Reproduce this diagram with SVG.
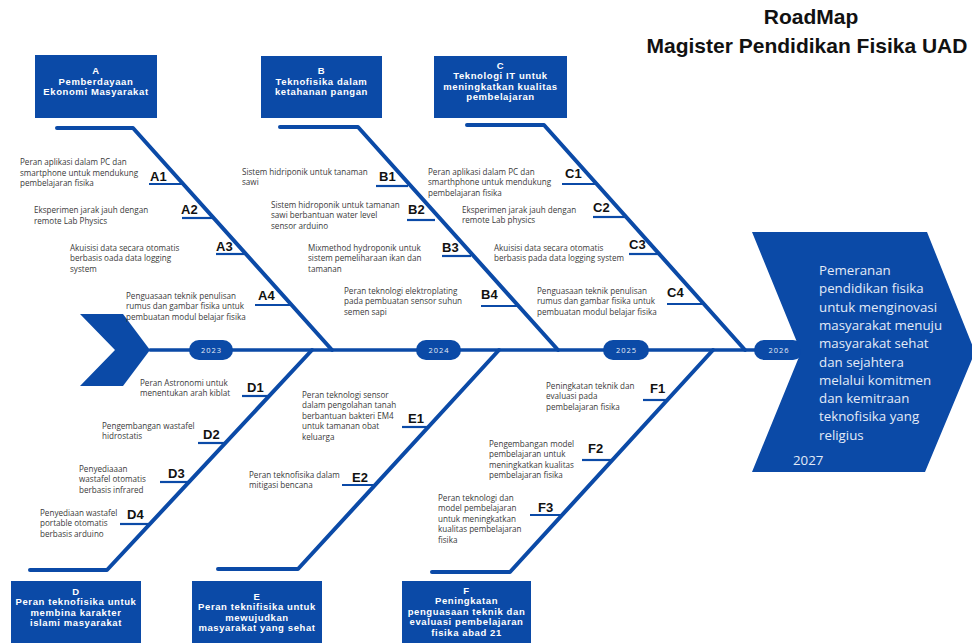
<svg xmlns="http://www.w3.org/2000/svg" width="972" height="643" viewBox="0 0 972 643">
<style>
.t{font-family:"Open Sans","Liberation Sans",sans-serif;font-size:8.1px;fill:#3a3a3a}
.lb{font-family:"Liberation Sans",Arial,sans-serif;font-weight:bold;font-size:13px;fill:#111}
.bx{fill:#0b4aa7}
.bt{font-family:"Liberation Sans",Arial,sans-serif;font-weight:bold;font-size:9.5px;fill:#fff;text-anchor:middle;letter-spacing:0.6px}
.main{stroke:#0b4aa7;stroke-width:4;fill:none;stroke-linecap:round;stroke-linejoin:round}
.tick{stroke:#0b4aa7;stroke-width:2.2;fill:none}
.yr{font-family:"Open Sans","Liberation Sans",sans-serif;font-size:7.5px;fill:#e6ecf7;text-anchor:middle;letter-spacing:1px}
.big{font-family:"Open Sans","Liberation Sans",sans-serif;font-size:13.3px;fill:#e3eaf7}
.title{font-family:"Liberation Sans",Arial,sans-serif;font-weight:bold;font-size:21px;fill:#111;text-anchor:middle}
</style>
<rect width="972" height="643" fill="#fff"/>

<g id="title">
<text class="title" x="811" y="24">RoadMap</text>
<text class="title" x="807" y="53">Magister Pendidikan Fisika UAD</text>
</g>

<g id="connectors">
<line class="main" x1="150" y1="350" x2="756" y2="350" style="stroke-width:3.5"/>
<polyline class="main" points="57,128 133,128 332,350"/>
<polyline class="main" points="280,127 358,127 558,350"/>
<polyline class="main" points="467,125 544,125 745,350"/>
<polyline class="main" points="30,570 107,570 312,350"/>
<polyline class="main" points="218,569 298,569 499,350"/>
<polyline class="main" points="432,572 510,572 713,350"/>
<line class="tick" x1="149" y1="184" x2="183" y2="184"/>
<line class="tick" x1="182" y1="218" x2="214" y2="218"/>
<line class="tick" x1="216" y1="254" x2="247" y2="254"/>
<line class="tick" x1="255" y1="305" x2="292" y2="305"/>
<line class="tick" x1="376" y1="186" x2="408" y2="186"/>
<line class="tick" x1="407" y1="220" x2="435" y2="220"/>
<line class="tick" x1="442" y1="256" x2="471" y2="256"/>
<line class="tick" x1="481" y1="306" x2="518" y2="306"/>
<line class="tick" x1="562" y1="184" x2="596" y2="184"/>
<line class="tick" x1="593" y1="217" x2="625" y2="217"/>
<line class="tick" x1="629" y1="254" x2="658" y2="254"/>
<line class="tick" x1="667" y1="304" x2="703" y2="304"/>
<line class="tick" x1="242" y1="396" x2="269" y2="396"/>
<line class="tick" x1="198" y1="443" x2="225" y2="443"/>
<line class="tick" x1="160" y1="482" x2="188" y2="482"/>
<line class="tick" x1="120" y1="524" x2="149" y2="524"/>
<line class="tick" x1="402" y1="427" x2="429" y2="427"/>
<line class="tick" x1="342" y1="485" x2="375" y2="485"/>
<line class="tick" x1="643" y1="400" x2="667" y2="400"/>
<line class="tick" x1="582" y1="460" x2="613" y2="460"/>
<line class="tick" x1="530" y1="515" x2="563" y2="515"/>
</g>

<g id="start">
<polygon class="bx" points="80,314 123,314 150,350 123,386 80,386 115,350"/>
</g>

<g id="y2023"><rect class="bx" x="189" y="340" width="44" height="20" rx="10"/><text class="yr" x="211.5" y="353">2023</text></g>
<g id="y2024"><rect class="bx" x="416" y="340" width="45" height="20" rx="10"/><text class="yr" x="439" y="353">2024</text></g>
<g id="y2025"><rect class="bx" x="603" y="340" width="46" height="20" rx="10"/><text class="yr" x="626.5" y="353">2025</text></g>
<g id="y2026"><rect class="bx" x="754" y="340" width="49" height="20" rx="10"/><text class="yr" x="779" y="353">2026</text></g>

<g id="goal">
<polygon class="bx" points="752,232 927,232 975,352 925,472 752,472 801,352"/>
<text class="big" x="819">
<tspan x="819" y="275">Pemeranan</tspan>
<tspan x="819" y="293.3">pendidikan fisika</tspan>
<tspan x="819" y="311.6">untuk menginovasi</tspan>
<tspan x="819" y="329.9">masyarakat menuju</tspan>
<tspan x="819" y="348.2">masyarakat sehat</tspan>
<tspan x="819" y="366.5">dan sejahtera</tspan>
<tspan x="819" y="384.8">melalui komitmen</tspan>
<tspan x="819" y="403.1">dan kemitraan</tspan>
<tspan x="819" y="421.4">teknofisika yang</tspan>
<tspan x="819" y="439.7">religius</tspan>
</text>
<text class="big" x="793" y="465">2027</text>
</g>

<g id="boxA"><rect class="bx" x="35" y="55" width="122" height="63"/>
<text class="bt"><tspan x="96" y="74">A</tspan><tspan x="96" y="84.5">Pemberdayaan</tspan><tspan x="96" y="95">Ekonomi Masyarakat</tspan></text></g>
<g id="boxB"><rect class="bx" x="261" y="56" width="121" height="62"/>
<text class="bt"><tspan x="321.5" y="74">B</tspan><tspan x="321.5" y="84.5">Teknofisika dalam</tspan><tspan x="321.5" y="95">ketahanan pangan</tspan></text></g>
<g id="boxC"><rect class="bx" x="434" y="56" width="133" height="62"/>
<text class="bt"><tspan x="500.5" y="68.5">C</tspan><tspan x="500.5" y="79">Teknologi IT untuk</tspan><tspan x="500.5" y="89.5">meningkatkan kualitas</tspan><tspan x="500.5" y="100">pembelajaran</tspan></text></g>
<g id="boxD"><rect class="bx" x="11" y="581" width="130" height="62"/>
<text class="bt"><tspan x="76" y="594.5">D</tspan><tspan x="76" y="605">Peran teknofisika untuk</tspan><tspan x="76" y="615.5">membina karakter</tspan><tspan x="76" y="626">islami masyarakat</tspan></text></g>
<g id="boxE"><rect class="bx" x="192" y="581" width="130" height="62"/>
<text class="bt"><tspan x="257" y="599.5">E</tspan><tspan x="257" y="610">Peran teknifisika untuk</tspan><tspan x="257" y="620.5">mewujudkan</tspan><tspan x="257" y="631">masyarakat yang sehat</tspan></text></g>
<g id="boxF"><rect class="bx" x="402" y="581" width="129" height="62"/>
<text class="bt"><tspan x="466.5" y="593.5">F</tspan><tspan x="466.5" y="604">Peningkatan</tspan><tspan x="466.5" y="614.5">penguasaan teknik dan</tspan><tspan x="466.5" y="625">evaluasi pembelajaran</tspan><tspan x="466.5" y="635.5">fisika abad 21</tspan></text></g>

<g id="A1"><text class="lb" x="150" y="181">A1</text>
<text class="t"><tspan x="20" y="165">Peran aplikasi dalam PC dan</tspan><tspan x="20" y="175.5">smartphone untuk mendukung</tspan><tspan x="20" y="186">pembelajaran fisika</tspan></text></g>
<g id="A2"><text class="lb" x="181" y="214">A2</text>
<text class="t"><tspan x="34" y="213">Eksperimen jarak jauh dengan</tspan><tspan x="34" y="223.5">remote Lab Physics</tspan></text></g>
<g id="A3"><text class="lb" x="216" y="251">A3</text>
<text class="t"><tspan x="70" y="250.5">Akuisisi data secara otomatis</tspan><tspan x="70" y="261">berbasis oada data logging</tspan><tspan x="70" y="271.5">system</tspan></text></g>
<g id="A4"><text class="lb" x="258" y="300">A4</text>
<text class="t"><tspan x="126" y="298.5">Penguasaan teknik penulisan</tspan><tspan x="126" y="309">rumus dan gambar fisika untuk</tspan><tspan x="126" y="319.5">pembuatan modul belajar fisika</tspan></text></g>

<g id="B1"><text class="lb" x="379" y="181">B1</text>
<text class="t"><tspan x="242" y="174.5">Sistem hidriponik untuk tanaman</tspan><tspan x="242" y="185">sawi</tspan></text></g>
<g id="B2"><text class="lb" x="408" y="214">B2</text>
<text class="t"><tspan x="271" y="207.5">Sistem hidroponik untuk tamanan</tspan><tspan x="271" y="218">sawi berbantuan water level</tspan><tspan x="271" y="228.5">sensor arduino</tspan></text></g>
<g id="B3"><text class="lb" x="442" y="252">B3</text>
<text class="t"><tspan x="308" y="250.5">Mixmethod hydroponik untuk</tspan><tspan x="308" y="261">sistem pemeliharaan ikan dan</tspan><tspan x="308" y="271.5">tamanan</tspan></text></g>
<g id="B4"><text class="lb" x="481" y="299">B4</text>
<text class="t"><tspan x="344" y="293.5">Peran teknologi elektroplating</tspan><tspan x="344" y="304">pada pembuatan sensor suhun</tspan><tspan x="344" y="314.5">semen sapi</tspan></text></g>

<g id="C1"><text class="lb" x="565" y="178">C1</text>
<text class="t"><tspan x="428" y="174.5">Peran aplikasi dalam PC dan</tspan><tspan x="428" y="185">smarthphone untuk mendukung</tspan><tspan x="428" y="195.5">pembelajaran fisika</tspan></text></g>
<g id="C2"><text class="lb" x="593" y="212">C2</text>
<text class="t"><tspan x="462" y="212.5">Eksperimen jarak jauh dengan</tspan><tspan x="462" y="223">remote Lab physics</tspan></text></g>
<g id="C3"><text class="lb" x="629" y="249">C3</text>
<text class="t"><tspan x="494" y="250.5">Akuisisi data secara otomatis</tspan><tspan x="494" y="261">berbasis pada data logging system</tspan></text></g>
<g id="C4"><text class="lb" x="667" y="297">C4</text>
<text class="t"><tspan x="537" y="293.5">Penguasaan teknik penulisan</tspan><tspan x="537" y="304">rumus dan gambar fisika untuk</tspan><tspan x="537" y="314.5">pembuatan modul belajar fisika</tspan></text></g>

<g id="D1"><text class="lb" x="247" y="392">D1</text>
<text class="t"><tspan x="140" y="385.5">Peran Astronomi untuk</tspan><tspan x="140" y="396">menentukan arah kiblat</tspan></text></g>
<g id="D2"><text class="lb" x="203" y="439">D2</text>
<text class="t"><tspan x="102" y="428.5">Pengembangan wastafel</tspan><tspan x="102" y="439">hidrostatis</tspan></text></g>
<g id="D3"><text class="lb" x="168" y="478">D3</text>
<text class="t"><tspan x="79" y="471.5">Penyediaaan</tspan><tspan x="79" y="482">wastafel otomatis</tspan><tspan x="79" y="492.5">berbasis infrared</tspan></text></g>
<g id="D4"><text class="lb" x="127" y="519">D4</text>
<text class="t"><tspan x="40" y="515.5">Penyediaan wastafel</tspan><tspan x="40" y="526">portable otomatis</tspan><tspan x="40" y="536.5">berbasis arduino</tspan></text></g>

<g id="E1"><text class="lb" x="408" y="423">E1</text>
<text class="t"><tspan x="302" y="397.5">Peran teknologi sensor</tspan><tspan x="302" y="408">dalam pengolahan tanah</tspan><tspan x="302" y="418.5">berbantuan bakteri EM4</tspan><tspan x="302" y="429">untuk tamanan obat</tspan><tspan x="302" y="439.5">keluarga</tspan></text></g>
<g id="E2"><text class="lb" x="352" y="482">E2</text>
<text class="t"><tspan x="249" y="477.5">Peran teknofisika dalam</tspan><tspan x="249" y="488">mitigasi bencana</tspan></text></g>

<g id="F1"><text class="lb" x="650" y="393">F1</text>
<text class="t"><tspan x="546" y="388.5">Peningkatan teknik dan</tspan><tspan x="546" y="399">evaluasi pada</tspan><tspan x="546" y="409.5">pembelajaran fisika</tspan></text></g>
<g id="F2"><text class="lb" x="588" y="453">F2</text>
<text class="t"><tspan x="489" y="446.5">Pengembangan model</tspan><tspan x="489" y="457">pembelajaran untuk</tspan><tspan x="489" y="467.5">meningkatkan kualitas</tspan><tspan x="489" y="478">pembelajaran fisika</tspan></text></g>
<g id="F3"><text class="lb" x="538" y="512">F3</text>
<text class="t"><tspan x="438" y="500.5">Peran teknologi dan</tspan><tspan x="438" y="511">model pembelajaran</tspan><tspan x="438" y="521.5">untuk meningkatkan</tspan><tspan x="438" y="532">kualitas pembelajaran</tspan><tspan x="438" y="542.5">fisika</tspan></text></g>
</svg>
